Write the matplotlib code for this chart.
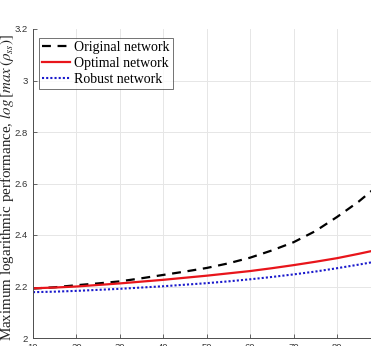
import matplotlib
matplotlib.use('Agg')
import matplotlib.pyplot as plt

# network size (x) and log of max performance per network type
n_nodes = [10, 15, 20, 25, 30, 35, 40, 45, 50, 55, 60, 65, 70, 75, 80, 85, 90]
original = [2.192, 2.197, 2.205, 2.212, 2.220, 2.232, 2.245, 2.258, 2.272, 2.290,
            2.312, 2.340, 2.372, 2.415, 2.470, 2.530, 2.600]
optimal = [2.193, 2.196, 2.200, 2.206, 2.212, 2.219, 2.226, 2.234, 2.242, 2.251,
           2.260, 2.271, 2.283, 2.296, 2.310, 2.327, 2.345]
robust = [2.178, 2.180, 2.183, 2.187, 2.191, 2.196, 2.201, 2.207, 2.213, 2.220,
          2.228, 2.237, 2.247, 2.258, 2.271, 2.285, 2.300]

plt.rcParams['mathtext.fontset'] = 'stix'

fig = plt.figure(figsize=(3.71, 3.46), dpi=100)
# axes run past the right/bottom edge like the cropped original
ax = fig.add_axes([33 / 371, 8 / 346, 1.0536, 309 / 346])

ax.plot(n_nodes, original, color='k', linestyle=(0, (4, 3)), linewidth=1.6, label='Original network')
ax.plot(n_nodes, optimal, color='#e8151b', linestyle='-', linewidth=1.6, label='Optimal network')
ax.plot(n_nodes, robust, color='#1a1acc', linestyle=(0, (1, 1)), linewidth=1.5, label='Robust network')

ax.set_xlim(10, 100)
ax.set_ylim(2, 3.2)
ax.set_xticks(range(10, 101, 10))
ax.set_yticks([2, 2.2, 2.4, 2.6, 2.8, 3, 3.2])
ax.set_yticklabels(['2', '2.2', '2.4', '2.6', '2.8', '3', '3.2'])

ax.grid(True, color='#e6e6e6', linewidth=0.7)
ax.set_axisbelow(True)
ax.yaxis.get_gridlines()[-1].set_visible(False)

for s in ['top', 'right']:
    ax.spines[s].set_visible(False)
for s in ['left', 'bottom']:
    ax.spines[s].set_color('#4d4d4d')
    ax.spines[s].set_linewidth(0.7)

ax.tick_params(direction='in', length=3, width=0.6, colors='#4d4d4d',
               labelsize=6.8, labelcolor='#333333', pad=3.5)
for lbl in ax.get_xticklabels() + ax.get_yticklabels():
    lbl.set_family('Liberation Sans')

# y label placed in figure coords so it stays inside the left edge
fig.text(7 / 371, 1 - 187 / 346,
         r'Maximum logarithmic performance, $log\,[max\,(\rho_{ss})]$',
         rotation=90, ha='center', va='center',
         family='Liberation Serif', fontsize=10.8, color='#222222')

leg = ax.legend(loc='upper left', bbox_to_anchor=(0.004, 0.985),
                prop={'family': 'Liberation Serif', 'size': 10},
                frameon=True, fancybox=False, edgecolor='#333333',
                handlelength=2.0, handletextpad=0.3, borderpad=0.25,
                labelspacing=0.2, borderaxespad=0.3)
leg.get_frame().set_linewidth(0.6)

fig.savefig('out.png', dpi=100)
